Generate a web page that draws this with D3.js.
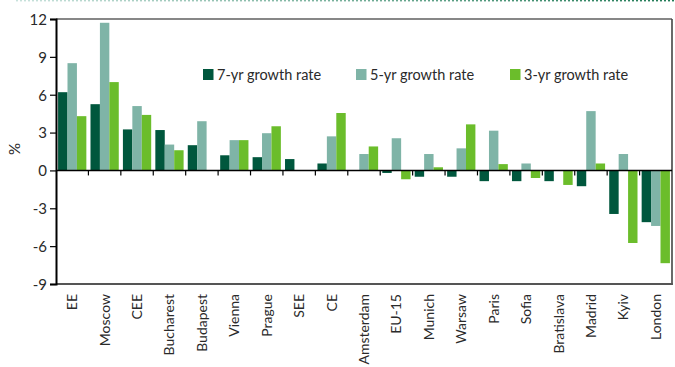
<!DOCTYPE html>
<html>
<head>
<meta charset="utf-8">
<script src="https://cdn.jsdelivr.net/npm/d3@7"></script>
<style>
  html, body { margin: 0; padding: 0; background: #fff; }
  svg { display: block; }
  text { font-family: Lato, "Open Sans", sans-serif; fill: #2a2a2a; }
</style>
</head>
<body>
<svg id="chart" width="675" height="367"></svg>
<script>
// Market growth rates, % per year
const categories = ["EE", "Moscow", "CEE", "Bucharest", "Budapest", "Vienna", "Prague", "SEE", "CE",
  "Amsterdam", "EU-15", "Munich", "Warsaw", "Paris", "Sofia", "Bratislava", "Madrid", "Kyiv", "London"];
const seriesNames = ["7-yr growth rate", "5-yr growth rate", "3-yr growth rate"];
const growth7 = [6.2, 5.25, 3.25, 3.2, 2.0, 1.2, 1.05, 0.9, 0.55, 0, -0.2, -0.5, -0.5, -0.85, -0.85, -0.85, -1.25, -3.45, -4.1];
const growth5 = [8.5, 11.7, 5.1, 2.05, 3.9, 2.4, 2.95, 0, 2.7, 1.3, 2.55, 1.3, 1.75, 3.15, 0.55, 0, 4.7, 1.3, -4.4];
const growth3 = [4.3, 7.0, 4.4, 1.6, 0, 2.4, 3.5, 0, 4.55, 1.9, -0.7, 0.25, 3.65, 0.5, -0.6, -1.15, 0.55, -5.75, -7.35];
const yTicks = [12, 9, 6, 3, 0, -3, -6, -9];
const colors = ["#00573d", "#7fb4a7", "#6bbd2b"];

const svg = d3.select("#chart");
const margin = { left: 56, right: 3, top: 19, bottom: 83 };
const W = 675, H = 367;
const x0 = margin.left, x1 = W - margin.right;
const yTop = margin.top, yBot = H - margin.bottom;

const x = d3.scaleBand().domain(categories).range([x0, x1]).paddingInner(0).paddingOuter(0);
const inner = d3.scaleBand().domain([0, 1, 2]).range([0, x.bandwidth()]).paddingOuter(0.22).paddingInner(0);
const y = d3.scaleLinear().domain([-9, 12]).range([yBot, yTop]);

// decorative dotted rule along the top
const defs = svg.append("defs");
const grad = defs.append("linearGradient").attr("id", "ruleGrad")
  .attr("x1", "0%").attr("x2", "100%").attr("y1", "0%").attr("y2", "0%");
grad.append("stop").attr("offset", "0%").attr("stop-color", "#c8e2dc");
grad.append("stop").attr("offset", "100%").attr("stop-color", "#1f7a55");
const mask = defs.append("mask").attr("id", "dotMask");
const pat = defs.append("pattern").attr("id", "dots").attr("patternUnits", "userSpaceOnUse")
  .attr("width", 4).attr("height", 2);
pat.append("rect").attr("width", 2).attr("height", 2).attr("fill", "#fff");
mask.append("rect").attr("x", 0).attr("y", 0).attr("width", W).attr("height", 3).attr("fill", "url(#dots)");
svg.append("rect").attr("x", 15).attr("y", 0).attr("width", W - 15).attr("height", 1.4)
  .attr("fill", "url(#ruleGrad)")
  .attr("mask", "url(#dotMask)");

// frame
svg.append("line").attr("x1", x0).attr("x2", x1).attr("y1", yTop).attr("y2", yTop)
  .attr("stroke", "#111").attr("stroke-width", 1.2);
svg.append("line").attr("x1", x1).attr("x2", x1).attr("y1", yTop).attr("y2", yBot + 1)
  .attr("stroke", "#444").attr("stroke-width", 1.6);
svg.append("line").attr("x1", x0).attr("x2", x1 + 0.8).attr("y1", yBot).attr("y2", yBot)
  .attr("stroke", "#555").attr("stroke-width", 1.8);

// bars
const seriesValues = [growth7, growth5, growth3];
seriesValues.forEach((vals, si) => {
  svg.append("g").selectAll("rect")
    .data(vals.map((v, i) => ({ cat: categories[i], v })))
    .join("rect")
    .filter(d => d.v !== 0)
    .attr("x", d => x(d.cat) + inner(si))
    .attr("width", inner.bandwidth())
    .attr("y", d => y(Math.max(0, d.v)))
    .attr("height", d => Math.abs(y(d.v) - y(0)))
    .attr("fill", colors[si]);
});

// y axis
const yAxis = d3.axisLeft(y).tickValues(yTicks).tickSize(6).tickPadding(3).tickFormat(d => String(d));
const gy = svg.append("g").attr("transform", `translate(${x0},0)`).call(yAxis);
gy.select(".domain").attr("stroke", "#000").attr("stroke-width", 2);
gy.selectAll(".tick line").attr("stroke", "#000").attr("stroke-width", 1.2);
gy.selectAll(".tick text").style("font-size", "15px").style("fill", "#2a2a2a")
  .style("font-family", "Lato, 'Open Sans', sans-serif").attr("dy", "0.36em");

// zero line with category boundary ticks
svg.append("line").attr("x1", x0).attr("x2", x1).attr("y1", y(0)).attr("y2", y(0))
  .attr("stroke", "#000").attr("stroke-width", 1.5);
svg.append("g").selectAll("line")
  .data(categories.slice(1))
  .join("line")
  .attr("x1", d => x(d)).attr("x2", d => x(d))
  .attr("y1", y(0)).attr("y2", y(0) + 5)
  .attr("stroke", "#000").attr("stroke-width", 1.2);

// category labels
svg.append("g").selectAll("text")
  .data(categories)
  .join("text")
  .attr("transform", d => `translate(${x(d) + x.bandwidth() / 2 + 5},${yBot + 10}) rotate(-90)`)
  .attr("text-anchor", "end")
  .style("font-size", "14px")
  .text(d => d);

// y axis title
svg.append("text")
  .attr("transform", `translate(${20},${149}) rotate(-90)`)
  .attr("text-anchor", "middle")
  .style("font-size", "15px")
  .text("%");

// legend
const legendX = [203, 356, 510];
const lg = svg.append("g").selectAll("g")
  .data(seriesNames)
  .join("g")
  .attr("transform", (d, i) => `translate(${legendX[i]},69)`);
lg.append("rect").attr("width", 10.5).attr("height", 11).attr("fill", (d, i) => colors[i]);
lg.append("text").attr("x", 14).attr("y", 10.5).style("font-size", "14.5px").text(d => d);
</script>
</body>
</html>
